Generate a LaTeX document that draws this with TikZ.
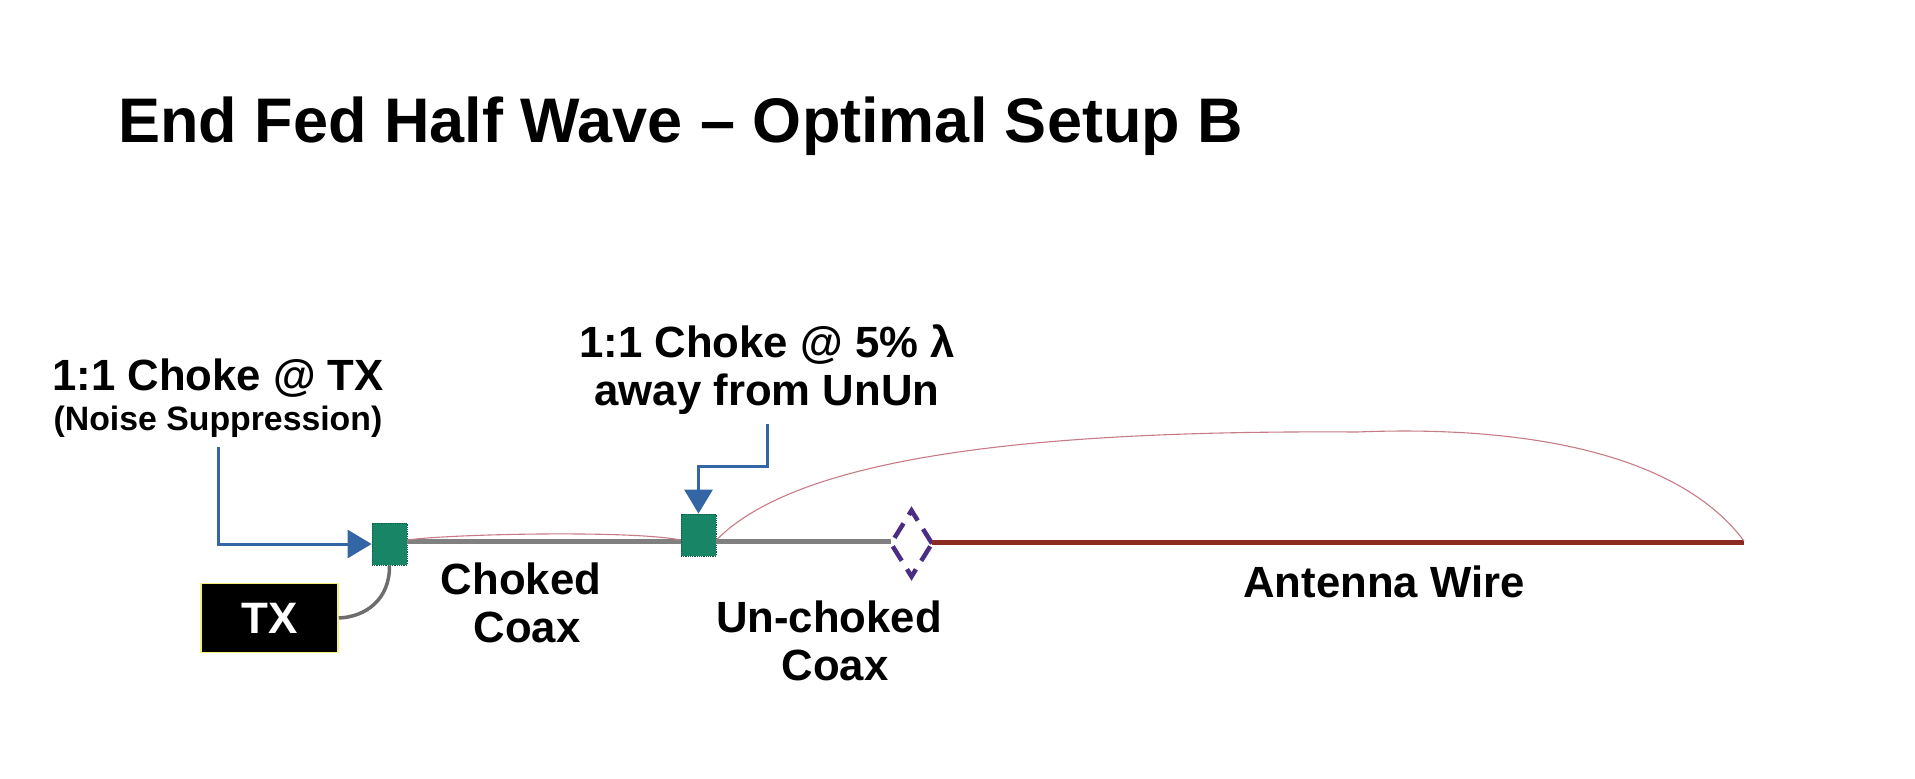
\documentclass[tikz,border=0pt]{standalone}
\usepackage{fontspec}
\setmainfont{Liberation Sans}
\usetikzlibrary{arrows.meta,shapes.geometric}
\definecolor{chokegreen}{HTML}{178566}
\definecolor{bluearrow}{HTML}{3465A4}
\definecolor{coaxgray}{HTML}{808080}
\definecolor{wirered}{HTML}{8B2A20}
\definecolor{arcrose}{HTML}{C77B85}
\definecolor{dashpurple}{HTML}{4B2E83}
\definecolor{txyellow}{HTML}{F5F07A}
\tikzset{
  x=1pt,y=-1pt,
  lab/.style={font=\bfseries\fontsize{43.7}{48.5}\selectfont,align=center,inner sep=0pt,text=black},
  chokebox/.style={rectangle,fill=chokegreen,draw=chokegreen!70!black,densely dotted,line width=0.8pt,inner sep=0pt},
  blueline/.style={draw=bluearrow,line width=3pt,-{Triangle[length=24pt,width=28pt]}},
  coax/.style={draw=coaxgray,line width=5.5pt},
  arcline/.style={draw=arcrose,line width=1.1pt},
}
\begin{document}
\begin{tikzpicture}
\useasboundingbox (0,0) rectangle (1915,779);
\node[inner sep=0pt,anchor=west,font=\bfseries\fontsize{63}{70}\selectfont] (title) at (118,126) {End Fed Half Wave – Optimal Setup B};
\node[lab] (tx1) at (218,378) {1:1 Choke @ TX};
\node[lab,font=\bfseries\fontsize{33.8}{38}\selectfont] (tx2) at (218,422) {(Noise Suppression)};
\node[lab] (ch5) at (767,369.5) {1:1 Choke @ 5\% λ\\away from UnUn};
\node[lab] (chc) at (521,603) {Choked\\\ Coax};
\node[lab] (unc) at (829,641) {Un-choked\\\ Coax};
\node[lab] (ant) at (1384,582) {Antenna Wire};
\node[chokebox,minimum width=35pt,minimum height=42pt] (c1) at (389.5,544) {};
\node[chokebox,minimum width=35pt,minimum height=42pt] (c2) at (698.5,535) {};
\node[rectangle,fill=black,draw=txyellow,line width=1.6pt,minimum width=137pt,minimum height=69pt,inner sep=0pt,text=white,font=\bfseries\fontsize{44}{49}\selectfont] (tx) at (269.5,618) {TX};
\node[diamond,draw=dashpurple,line width=4.5pt,dash pattern=on 17pt off 10pt,outer sep=0pt,minimum width=41pt,minimum height=66pt,inner sep=0pt] (un) at (911.5,543.5) {};
\coordinate (wireend) at (1744,542.5);
\coordinate (lineA) at (218,447);
\coordinate (lineB) at (767,424);
\coordinate (k) at (1357,432);
\draw[coax] (c1.east |- 0,541.5) -- (c2.west |- 0,541.5);
\draw[coax] (c2.east |- 0,541.5) -- (un.west |- 0,541.5);
\draw[draw=wirered,line width=5.5pt] (un.east |- 0,542.5) -- (wireend);
\draw[draw=coaxgray!85!black,line width=3.5pt] (tx.east) .. controls (365,617) and (390,600) .. (c1.south);
\draw[blueline] (lineA) |- (c1.west);
\draw[blueline] (lineB) -- (767,466) -- (698.5,466) -- (c2.north);
\draw[arcline] (c1.east |- 0,540) .. controls (450,534) and (630,530) .. (c2.west |- 0,540);
\draw[arcline] (c2.east |- 0,540) .. controls (800,455) and (1040,430) .. (k) .. controls (1530,425) and (1680,455) .. (wireend |- 0,541);
\end{tikzpicture}
\end{document}
